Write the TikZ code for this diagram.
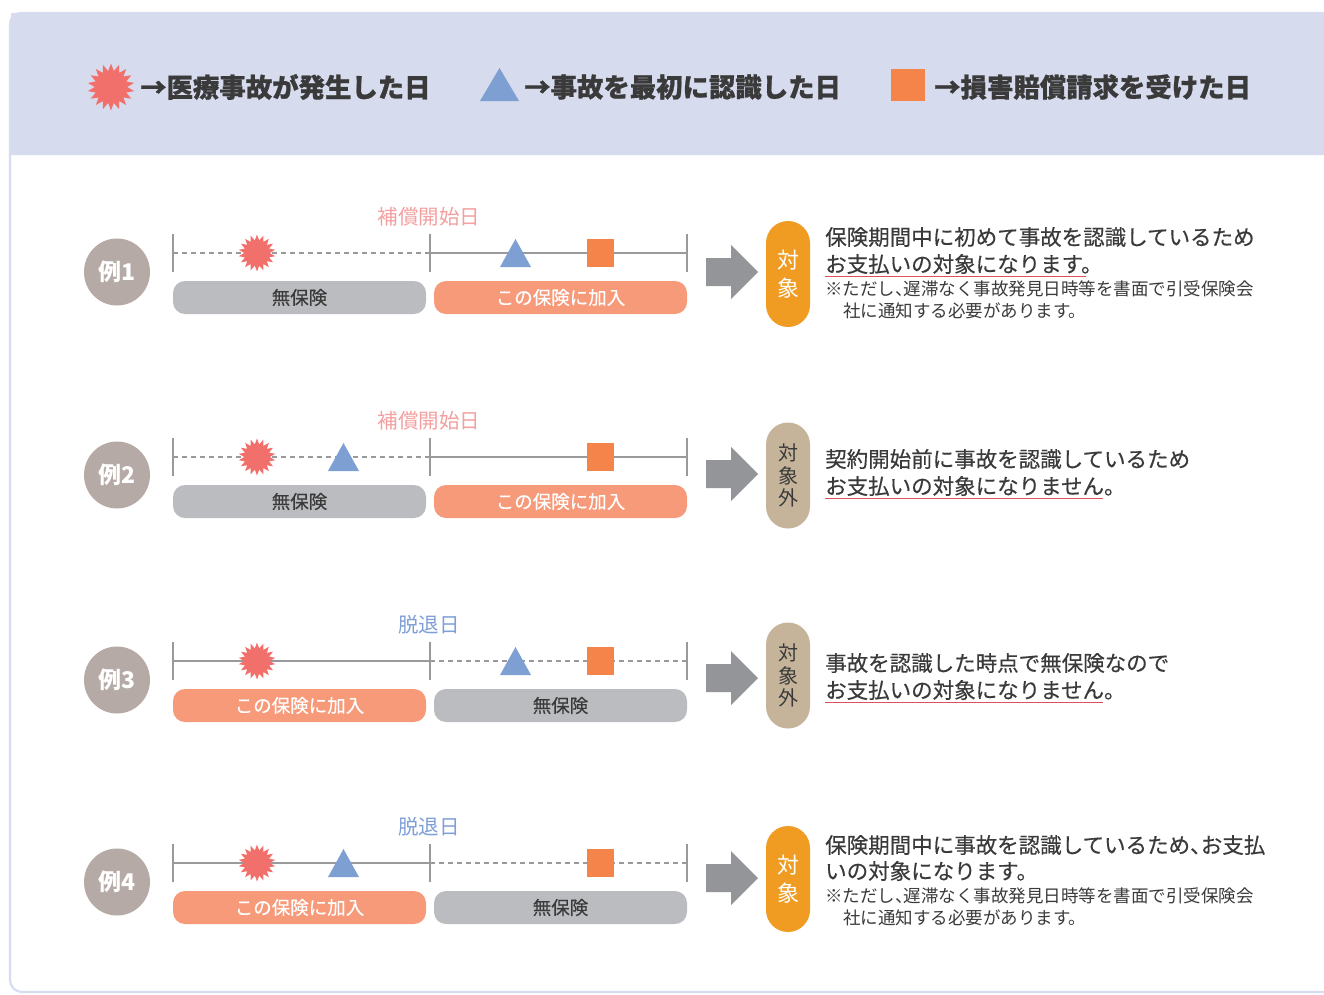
\documentclass[tikz,border=0pt]{standalone}
\usepackage{fontspec}
\setmainfont{Noto Sans CJK JP}
\usetikzlibrary{shapes.geometric}
\definecolor{hdr}{HTML}{D6DBEE}
\definecolor{frm}{HTML}{D8DCF0}
\definecolor{tgray}{HTML}{9A9A9D}
\definecolor{burstred}{HTML}{F2706B}
\definecolor{triblue}{HTML}{7D9FD2}
\definecolor{sqor}{HTML}{F5844A}
\definecolor{bargray}{HTML}{BBBCC0}
\definecolor{baror}{HTML}{F79A7A}
\definecolor{badge}{HTML}{B5AAA5}
\definecolor{arrg}{HTML}{939598}
\definecolor{capor}{HTML}{F09C22}
\definecolor{captan}{HTML}{C5B39A}
\definecolor{txt}{HTML}{3A3A3A}
\definecolor{pinklbl}{HTML}{F4A0A0}
\definecolor{bluelbl}{HTML}{7F9FD8}
\definecolor{uline}{HTML}{E0505C}
\newcommand{\hcomma}{、\hspace{-0.5em}}
\begin{document}
\begin{tikzpicture}[x=1pt,y=-1pt,
  burst/.style={star, star points=18, star point ratio=1.45, fill=burstred, draw=none, inner sep=0pt, minimum size=#1},
  burst/.default=37,
  hdrtxt/.style={anchor=west, inner sep=0pt, text=txt, font=\fontsize{26.4}{30}\selectfont\bfseries\addfontfeature{FakeBold=0.8}},
  solidl/.style={draw=tgray, line width=2.8pt},
  dashl/.style={draw=tgray, line width=2.8pt, dash pattern=on 5pt off 4pt},
  tick/.style={draw=tgray, line width=2.4pt},
  bar/.style={rounded corners=12pt, minimum width=253pt, minimum height=33pt, inner sep=0pt, font=\fontsize{18.5}{20}\selectfont\addfontfeature{FakeBold=0.3}},
  graybar/.style={bar, fill=bargray, text=txt},
  orbar/.style={bar, fill=baror, text=white},
  pinklabel/.style={inner sep=0pt, text=pinklbl, font=\fontsize{20.5}{22}\selectfont},
  bluelabel/.style={inner sep=0pt, text=bluelbl, font=\fontsize{20.5}{22}\selectfont},
  badgec/.style={ellipse, fill=badge, minimum width=66pt, minimum height=67pt, inner sep=0pt, text=white, font=\fontsize{23}{24}\selectfont\bfseries},
  capsule/.style={rounded corners=22pt, minimum width=44pt, inner sep=0pt, align=center},
  capok/.style={capsule, fill=capor, text=white, font=\fontsize{22}{28}\selectfont},
  capng/.style={capsule, fill=captan, text=txt, font=\fontsize{20}{22.5}\selectfont},
  desc/.style={anchor=west, inner sep=0pt, text=txt, font=\fontsize{21.5}{24}\selectfont\addfontfeature{FakeBold=0.4}},
  note/.style={anchor=west, inner sep=0pt, text=txt, font=\fontsize{17.5}{20}\selectfont},
  ul/.style={draw=uline, line width=1.5pt}
]
\useasboundingbox (0,0) rectangle (1324,994);
% frame
\fill[white] (0,0) rectangle (1324,994);
\fill[hdr] (9,155) {[rounded corners=12pt] -- (9,12) -- (1340,12)} -- (1340,155) -- cycle;
\draw[frm, line width=2.2pt, rounded corners=12pt] (10,13) rectangle (1345,992);
\fill[hdr] (11,13) rectangle (1324,155);

% legend
\node[burst=47] (lgburst) at (111,87) {};
\node[hdrtxt] (lg1) at (140,87) {→医療事故が発生した日};
\fill[triblue] (480,101) -- (499.5,68) -- (519,101) -- cycle;
\coordinate (lgtri) at (499.5,86);
\node[hdrtxt] (lg2) at (524,87) {→事故を最初に認識した日};
\fill[sqor] (891,69) rectangle (925,101);
\coordinate (lgsq) at (908,85);
\node[hdrtxt] (lg3) at (934,87) {→損害賠償請求を受けた日};

% ===== Row 1 =====
\coordinate (r1a) at (173,253); \coordinate (r1m) at (430,253); \coordinate (r1b) at (687,253);
\path[dashl] (r1a) -- (r1m);
\path[solidl] (r1m) -- (r1b);
\foreach \c in {r1a,r1m,r1b} \draw[tick] ([yshift=-19pt]\c) -- ([yshift=19pt]\c);
\node[pinklabel] (r1lbl) at (429,217) {補償開始日};
\node[burst] (r1burst) at (257,253) {};
\fill[triblue] (500,267) -- (515.5,239) -- (531,267) -- cycle;
\fill[sqor] (587,239) rectangle (614,267);
\node[graybar] (r1bar1) at (299.5,297.5) {無保険};
\node[orbar] (r1bar2) at (560.5,297.5) {この保険に加入};
\node[badgec] (r1badge) at (117,272) {例1};
\fill[arrg] (706,258) -- (731,258) -- (731,245) -- (758,272) -- (731,299) -- (731,286) -- (706,286) -- cycle;
\node[capok, minimum height=106pt] (r1cap) at (788,274) {対\\象};
\node[desc] (r1d1) at (825,237) {保険期間中に初めて事故を認識しているため};
\node[desc] (r1d2) at (825,264) {お支払いの対象になります。};
\draw[ul] (825,276.5) -- (1086,276.5);
\node[note] (r1n1) at (825,289) {※ただし\hcomma 遅滞なく事故発見日時等を書面で引受保険会};
\node[note] (r1n2) at (843,311) {社に通知する必要があります。};

% ===== Row 2 =====
\coordinate (r2a) at (173,457); \coordinate (r2m) at (430,457); \coordinate (r2b) at (687,457);
\path[dashl] (r2a) -- (r2m);
\path[solidl] (r2m) -- (r2b);
\foreach \c in {r2a,r2m,r2b} \draw[tick] ([yshift=-19pt]\c) -- ([yshift=19pt]\c);
\node[pinklabel] (r2lbl) at (429,421) {補償開始日};
\node[burst] (r2burst) at (257,457) {};
\fill[triblue] (328,471) -- (343.5,443) -- (359,471) -- cycle;
\fill[sqor] (587,443) rectangle (614,471);
\node[graybar] (r2bar1) at (299.5,501.5) {無保険};
\node[orbar] (r2bar2) at (560.5,501.5) {この保険に加入};
\node[badgec] (r2badge) at (117,475) {例2};
\fill[arrg] (706,460) -- (731,460) -- (731,447) -- (758,474) -- (731,501) -- (731,488) -- (706,488) -- cycle;
\node[capng, minimum height=106pt] (r2cap) at (788,475.5) {対\\象\\外};
\node[desc] (r2d1) at (825,459) {契約開始前に事故を認識しているため};
\node[desc] (r2d2) at (825,486) {お支払いの対象になりません。};
\draw[ul] (825,498.5) -- (1103,498.5);

% ===== Row 3 =====
\coordinate (r3a) at (173,661); \coordinate (r3m) at (430,661); \coordinate (r3b) at (687,661);
\path[solidl] (r3a) -- (r3m);
\path[dashl] (r3m) -- (r3b);
\foreach \c in {r3a,r3m,r3b} \draw[tick] ([yshift=-19pt]\c) -- ([yshift=19pt]\c);
\node[bluelabel] (r3lbl) at (429,625) {脱退日};
\node[burst] (r3burst) at (257,661) {};
\fill[triblue] (500,675) -- (515.5,647) -- (531,675) -- cycle;
\fill[sqor] (587,647) rectangle (614,675);
\node[orbar] (r3bar1) at (299.5,705.5) {この保険に加入};
\node[graybar] (r3bar2) at (560.5,705.5) {無保険};
\node[badgec] (r3badge) at (117,680) {例3};
\fill[arrg] (706,664) -- (731,664) -- (731,651) -- (758,678) -- (731,705) -- (731,692) -- (706,692) -- cycle;
\node[capng, minimum height=106pt] (r3cap) at (788,675.5) {対\\象\\外};
\node[desc] (r3d1) at (825,663) {事故を認識した時点で無保険なので};
\node[desc] (r3d2) at (825,690) {お支払いの対象になりません。};
\draw[ul] (825,702.5) -- (1103,702.5);

% ===== Row 4 =====
\coordinate (r4a) at (173,863); \coordinate (r4m) at (430,863); \coordinate (r4b) at (687,863);
\path[solidl] (r4a) -- (r4m);
\path[dashl] (r4m) -- (r4b);
\foreach \c in {r4a,r4m,r4b} \draw[tick] ([yshift=-19pt]\c) -- ([yshift=19pt]\c);
\node[bluelabel] (r4lbl) at (429,827) {脱退日};
\node[burst] (r4burst) at (257,863) {};
\fill[triblue] (328,877) -- (343.5,849) -- (359,877) -- cycle;
\fill[sqor] (587,849) rectangle (614,877);
\node[orbar] (r4bar1) at (299.5,907.5) {この保険に加入};
\node[graybar] (r4bar2) at (560.5,907.5) {無保険};
\node[badgec] (r4badge) at (117,882) {例4};
\fill[arrg] (706,864) -- (731,864) -- (731,851) -- (758,878) -- (731,905) -- (731,892) -- (706,892) -- cycle;
\node[capok, minimum height=106pt] (r4cap) at (788,879) {対\\象};
\node[desc] (r4d1) at (825,845) {保険期間中に事故を認識しているため\hcomma お支払};
\node[desc] (r4d2) at (825,871) {いの対象になります。};
\node[note] (r4n1) at (825,896) {※ただし\hcomma 遅滞なく事故発見日時等を書面で引受保険会};
\node[note] (r4n2) at (843,918) {社に通知する必要があります。};
\end{tikzpicture}
\end{document}
